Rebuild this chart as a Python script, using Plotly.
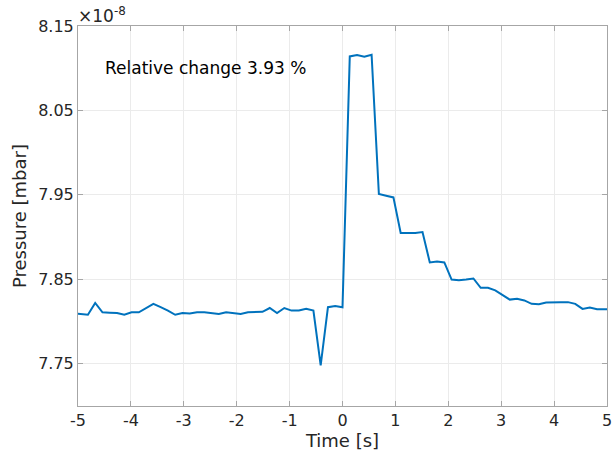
import plotly.graph_objects as go

# Time samples [s]
time_s = [-5.0875, -4.95, -4.8125, -4.675, -4.5375, -4.4, -4.2625, -4.125, -3.9875, -3.85,
          -3.7125, -3.575, -3.4375, -3.3, -3.1625, -3.025, -2.8875, -2.75, -2.6125, -2.475,
          -2.3375, -2.2, -2.0625, -1.925, -1.7875, -1.65, -1.5125, -1.375, -1.2375, -1.1,
          -0.9625, -0.825, -0.6875, -0.55, -0.4125, -0.275, -0.1375, 0.0, 0.1375, 0.275,
          0.4125, 0.55, 0.6875, 0.825, 0.9625, 1.1, 1.2375, 1.375, 1.5125, 1.65,
          1.7875, 1.925, 2.0625, 2.2, 2.3375, 2.475, 2.6125, 2.75, 2.8875, 3.025,
          3.1625, 3.3, 3.4375, 3.575, 3.7125, 3.85, 3.9875, 4.125, 4.2625, 4.4,
          4.5375, 4.675, 4.8125, 4.95, 5.0875]

# Pressure in units of 1e-8 mbar
pressure_e8 = [7.810, 7.809, 7.808, 7.822, 7.811, 7.8105, 7.810, 7.808, 7.811, 7.811,
               7.816, 7.821, 7.817, 7.813, 7.808, 7.810, 7.8095, 7.811, 7.811, 7.810,
               7.809, 7.811, 7.810, 7.809, 7.811, 7.8115, 7.8115, 7.816, 7.810, 7.816,
               7.813, 7.813, 7.815, 7.813, 7.748, 7.817, 7.8185, 7.817, 8.114, 8.1155,
               8.1135, 8.116, 7.951, 7.949, 7.947, 7.905, 7.905, 7.905, 7.906, 7.870,
               7.871, 7.870, 7.8497, 7.849, 7.8497, 7.851, 7.840, 7.840, 7.837, 7.831,
               7.826, 7.827, 7.825, 7.821, 7.8205, 7.8225, 7.823, 7.823, 7.823, 7.821,
               7.815, 7.8165, 7.8146, 7.8146, 7.8146]

x_ticks = [-5, -4, -3, -2, -1, 0, 1, 2, 3, 4, 5]
x_tick_labels = ["-5", "-4", "-3", "-2", "-1", "0", "1", "2", "3", "4", "5"]
y_ticks = [7.75, 7.85, 7.95, 8.05, 8.15]
y_tick_labels = ["7.75", "7.85", "7.95", "8.05", "8.15"]

annotation_text = "Relative change 3.93 %"

FONT = "DejaVu Sans"
TXT = "#262626"
AX = "#a6a6a6"
GRID = "#ebebeb"

fig = go.Figure()
fig.add_trace(go.Scatter(x=time_s, y=pressure_e8, mode="lines",
                         line=dict(color="#0072BD", width=2), showlegend=False))

fig.update_layout(
    width=615, height=454,
    margin=dict(l=78, r=8, t=26, b=48),
    paper_bgcolor="white", plot_bgcolor="white",
    font=dict(family=FONT, size=16, color=TXT),
    xaxis=dict(range=[-5, 5], tickvals=x_ticks, ticktext=x_tick_labels, automargin=False,
               showgrid=True, gridcolor=GRID, gridwidth=1, zeroline=False,
               showline=True, linecolor=AX, linewidth=1, mirror="ticks",
               ticks="inside", ticklen=5, tickcolor=AX,
               tickfont=dict(family=FONT, size=16, color=TXT),
               title=dict(text="Time [s]", font=dict(family=FONT, size=18, color=TXT), standoff=2)),
    yaxis=dict(range=[7.70, 8.15], tickvals=y_ticks, ticktext=y_tick_labels, automargin=False,
               showgrid=True, gridcolor=GRID, gridwidth=1, zeroline=False,
               showline=True, linecolor=AX, linewidth=1, mirror="ticks",
               ticks="inside", ticklen=5, tickcolor=AX,
               tickfont=dict(family=FONT, size=16, color=TXT),
               title=dict(text="Pressure [mbar]", font=dict(family=FONT, size=18, color=TXT), standoff=6)),
    annotations=[
        dict(x=-4.53, y=8.1, xref="x", yref="y", text=annotation_text, showarrow=False,
             xanchor="left", yanchor="middle", font=dict(family=FONT, size=17, color="black")),
        dict(x=0, y=1, xref="paper", yref="paper", text="×10<sup>-8</sup>", showarrow=False,
             xanchor="left", yanchor="bottom", yshift=-2, xshift=-2,
             font=dict(family=FONT, size=17, color=TXT)),
    ],
)

fig.write_html("out.html")
